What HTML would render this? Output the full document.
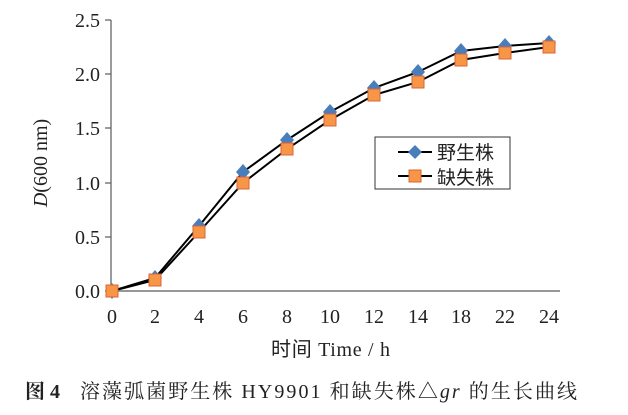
<!DOCTYPE html><html><head><style>body{margin:0;background:#fff}svg{display:block}</style></head><body>
<svg width="628" height="415" xmlns="http://www.w3.org/2000/svg" font-family="Liberation Serif, Noto Serif CJK SC, serif">
<g stroke="#595959" stroke-width="1.2" fill="none">
<line x1="111" y1="20" x2="111" y2="291"/>
<line x1="105" y1="291" x2="560" y2="291"/>
<line x1="105" y1="20" x2="111" y2="20"/><line x1="105" y1="74" x2="111" y2="74"/><line x1="105" y1="128" x2="111" y2="128"/><line x1="105" y1="183" x2="111" y2="183"/><line x1="105" y1="237" x2="111" y2="237"/>
</g>
<g font-size="20" fill="#222" text-anchor="end">
<text x="100" y="27">2.5</text><text x="100" y="81">2.0</text><text x="100" y="135">1.5</text><text x="100" y="190">1.0</text><text x="100" y="244">0.5</text><text x="100" y="298">0.0</text></g>
<g font-size="20" fill="#222" text-anchor="middle">
<text x="112" y="323">0</text><text x="155" y="323">2</text><text x="199" y="323">4</text><text x="243" y="323">6</text><text x="287" y="323">8</text><text x="330" y="323">10</text><text x="374" y="323">12</text><text x="418" y="323">14</text><text x="461" y="323">18</text><text x="505" y="323">22</text><text x="549" y="323">24</text></g>
<text x="271" y="356" font-size="20" fill="#222" textLength="119" font-family="Liberation Serif, Noto Sans CJK SC, serif">时间 Time / h</text>
<text transform="translate(47,163) rotate(-90)" font-size="20" fill="#222" text-anchor="middle"><tspan font-style="italic">D</tspan>(600 nm)</text>
<polyline fill="none" stroke="#000" stroke-width="2" points="112,291 155,278 199,226 243,172 287,140 330,112 374,88 418,72 461,51 505,46 549,43"/>
<polyline fill="none" stroke="#000" stroke-width="2" points="112,291 155,280 199,232 243,183 287,149 330,120 374,95 418,82 461,60 505,53 549,47"/>
<g fill="#4a7ebb">
<path d="M112,283l7,8-7,8-7-8z"/><path d="M155,270l7,8-7,8-7-8z"/><path d="M199,218l7,8-7,8-7-8z"/><path d="M243,164l7,8-7,8-7-8z"/><path d="M287,132l7,8-7,8-7-8z"/><path d="M330,104l7,8-7,8-7-8z"/><path d="M374,80l7,8-7,8-7-8z"/><path d="M418,64l7,8-7,8-7-8z"/><path d="M461,43l7,8-7,8-7-8z"/><path d="M505,38l7,8-7,8-7-8z"/><path d="M549,35l7,8-7,8-7-8z"/></g>
<g fill="#f79646" stroke="#d8643a" stroke-width="1">
<rect x="106" y="285" width="12" height="12"/><rect x="149" y="274" width="12" height="12"/><rect x="193" y="226" width="12" height="12"/><rect x="237" y="177" width="12" height="12"/><rect x="281" y="143" width="12" height="12"/><rect x="324" y="114" width="12" height="12"/><rect x="368" y="89" width="12" height="12"/><rect x="412" y="76" width="12" height="12"/><rect x="455" y="54" width="12" height="12"/><rect x="499" y="47" width="12" height="12"/><rect x="543" y="41" width="12" height="12"/></g>
<rect x="375" y="137" width="135" height="52" fill="#fff" stroke="#333" stroke-width="1"/>
<line x1="398" y1="152" x2="432" y2="152" stroke="#000" stroke-width="2"/><path d="M415,145l7,7-7,7-7-7z" fill="#4a7ebb"/>
<line x1="398" y1="176" x2="432" y2="176" stroke="#000" stroke-width="2"/><rect x="409" y="170" width="12" height="12" fill="#f79646" stroke="#d8643a"/>
<g font-size="19" fill="#222" font-family="Noto Sans CJK SC, sans-serif"><text x="437" y="159">野生株</text><text x="437" y="184">缺失株</text></g>
<text x="25" y="398" font-size="20" fill="#222" font-weight="bold">图 4</text>
<text x="80" y="398" font-size="20" fill="#222" textLength="497" font-family="Liberation Serif, Noto Serif CJK SC, serif">溶藻弧菌野生株 HY9901 和缺失株△<tspan font-style="italic">gr</tspan> 的生长曲线</text>
</svg></body></html>
